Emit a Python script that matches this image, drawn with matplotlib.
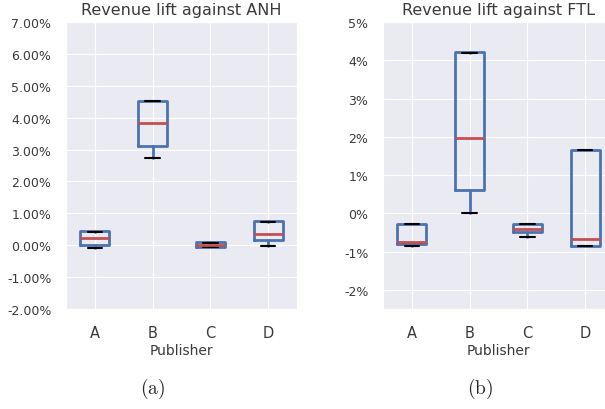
import matplotlib
matplotlib.use("Agg")
import matplotlib.pyplot as plt
import seaborn as sns
from matplotlib.ticker import FuncFormatter, MultipleLocator

sns.set_style("darkgrid")
plt.rcParams['font.family'] = ['DejaVu Sans']
plt.rcParams['mathtext.fontset'] = 'cm'

publishers = ['A', 'B', 'C', 'D']

# box stats (fractions, not percent)
anh_low = [-0.0009, 0.0274, -0.0005, -0.0001]
anh_q1 = [0.0000, 0.0311, -0.0006, 0.0016]
anh_med = [0.0022, 0.0384, 0.0000, 0.0036]
anh_q3 = [0.0044, 0.0453, 0.0010, 0.0077]
anh_high = [0.0043, 0.0451, 0.0008, 0.0074]

ftl_low = [-0.0086, 0.0001, -0.0061, -0.0085]
ftl_q1 = [-0.0079, 0.0062, -0.0050, -0.0085]
ftl_med = [-0.0074, 0.0196, -0.0042, -0.0067]
ftl_q3 = [-0.0028, 0.0421, -0.0028, 0.0166]
ftl_high = [-0.0028, 0.0419, -0.0028, 0.0166]

BLUE = '#4C72B0'
RED = '#C44E52'
TXT = '#3a3a3a'


def draw_panel(ax, low, q1, med, q3, high, title):
    stats = []
    for i in range(len(publishers)):
        stats.append({'label': publishers[i], 'whislo': low[i], 'q1': q1[i],
                      'med': med[i], 'q3': q3[i], 'whishi': high[i], 'fliers': []})
    ax.bxp(stats, widths=0.5, showfliers=False,
           boxprops=dict(color=BLUE, linewidth=2.0),
           whiskerprops=dict(color=BLUE, linewidth=2.0),
           capprops=dict(color='black', linewidth=1.5),
           medianprops=dict(color=RED, linewidth=2.0))
    ax.set_title(title, fontsize=11.5, color=TXT, pad=6)
    ax.set_xlabel('Publisher', fontsize=10, color=TXT, labelpad=2)
    ax.tick_params(axis='x', labelsize=10.5, colors=TXT, pad=8)
    ax.tick_params(axis='y', labelsize=9, colors=TXT, pad=7)
    ax.set_xlim(0.5, 4.5)


fig = plt.figure(figsize=(6.05, 4.10), dpi=100)
ax1 = fig.add_axes([66 / 605, 100 / 410, 231 / 605, 287 / 410])
ax2 = fig.add_axes([383 / 605, 100 / 410, 231 / 605, 287 / 410])

draw_panel(ax1, anh_low, anh_q1, anh_med, anh_q3, anh_high, 'Revenue lift against ANH')
ax1.set_ylim(-0.02, 0.07)
ax1.yaxis.set_major_locator(MultipleLocator(0.01))
ax1.yaxis.set_major_formatter(FuncFormatter(lambda v, p: '%.2f%%' % (v * 100)))

draw_panel(ax2, ftl_low, ftl_q1, ftl_med, ftl_q3, ftl_high, 'Revenue lift against FTL')
ax2.set_ylim(-0.025, 0.05)
ax2.yaxis.set_major_locator(MultipleLocator(0.01))
ax2.yaxis.set_major_formatter(FuncFormatter(lambda v, p: '%d%%' % round(v * 100)))

fig.text(153 / 605, 1 - 389 / 410, r'$\mathrm{(a)}$', fontsize=14, ha='center', va='center')
fig.text(480 / 605, 1 - 389 / 410, r'$\mathrm{(b)}$', fontsize=14, ha='center', va='center')

fig.savefig('out.png', dpi=100)
